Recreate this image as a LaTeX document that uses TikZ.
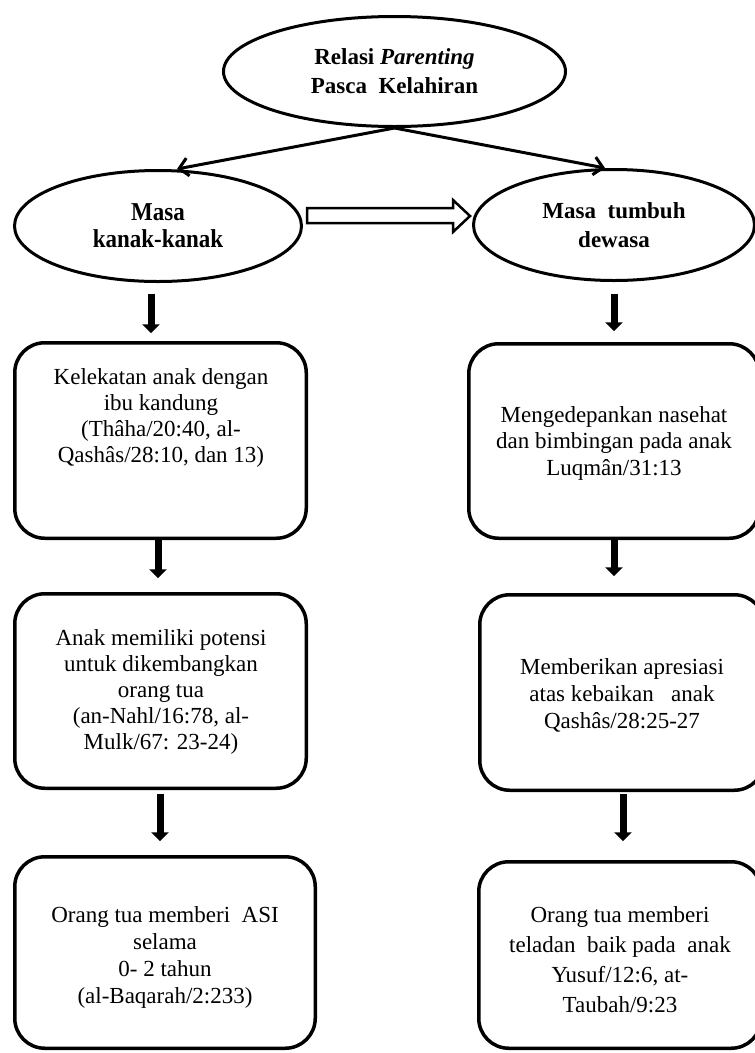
\documentclass[tikz,border=0pt]{standalone}
\usepackage{fontspec}
\usepackage{graphicx}
\setmainfont{Liberation Serif}
\usetikzlibrary{shapes.geometric,arrows.meta}
\newcommand{\tallbold}[1]{\scalebox{1}[1.12]{#1}}
\begin{document}
\begin{tikzpicture}[x=1pt,y=-1pt,
  oval/.style={ellipse,draw,line width=3pt,inner sep=0pt,align=center},
  ovaltext/.style={font=\bfseries\fontsize{23}{#1}\selectfont},
  card/.style={rectangle,draw,line width=3.5pt,rounded corners=30pt,inner sep=0pt},
  cardtext/.style={align=center,inner sep=0pt,font=\fontsize{23}{#1}\selectfont},
  thinarrow/.style={line width=3pt,-{Straight Barb[length=9pt,width=18pt]}},
  downarrow/.style={line width=7pt,-{Triangle[length=9pt,width=17pt]}},
  hollowarrow/.style={line width=2.5pt,line join=miter}
]
\path[use as bounding box] (0,0) rectangle (755,1053);
\clip (0,0) rectangle (755,1053);

% ellipses
\node[oval,ovaltext=29,minimum width=342pt,minimum height=110pt] (top) at (394.5,71.5)
  {Relasi \textit{Parenting}\\Pasca~~Kelahiran};
\node[oval,ovaltext=27,minimum width=287pt,minimum height=111pt] (kanak) at (158,226)
  {\tallbold{Masa}\\\tallbold{kanak-kanak}};
\node[oval,ovaltext=29,minimum width=281pt,minimum height=111pt] (dewasa) at (614,225)
  {Masa~~tumbuh\\dewasa};

% rounded boxes
\node[card,minimum width=291.5pt,minimum height=195.5pt] (bl1) at (160.5,440.5) {};
\node[card,minimum width=291.5pt,minimum height=194.5pt] (bl2) at (160.5,691) {};
\node[card,minimum width=300.5pt,minimum height=191.5pt] (bl3) at (165,952.5) {};
\node[card,minimum width=290.5pt,minimum height=194.5pt] (br1) at (614,441) {};
\node[card,minimum width=284.5pt,minimum height=195.5pt] (br2) at (622,692.5) {};
\node[card,minimum width=282.5pt,minimum height=186.5pt] (br3) at (620,955) {};

% box texts
\node[cardtext=25.7] (tl1) at (161,418)
  {Kelekatan anak dengan\\ibu kandung\\(Thâha/20:40, al-\\Qashâs/28:10, dan 13)};
\node[cardtext=26.2] (tl2) at (161,692)
  {Anak memiliki potensi\\untuk dikembangkan\\orang tua\\(an-Nahl/16:78, al-\\Mulk/67: 23-24)};
\node[cardtext=26.7] (tl3) at (165,957.5)
  {Orang tua memberi~ ASI\\selama\\0- 2 tahun\\(al-Baqarah/2:233)};
\node[cardtext=26.5] (tr1) at (614,443)
  {Mengedepankan nasehat\\dan bimbingan pada anak\\Luqmân/31:13};
\node[cardtext=27] (tr2) at (622,695.5)
  {Memberikan apresiasi\\atas kebaikan~~ anak\\Qashâs/28:25-27};
\node[cardtext=30] (tr3) at (620,960)
  {Orang tua memberi\\teladan~ baik pada~ anak\\Yusuf/12:6, at-\\Taubah/9:23};

% branches from the title
\draw[thinarrow] (top.south) -- ([xshift=19pt]kanak.north);
\draw[thinarrow] (top.south) -- ([xshift=-9pt]dewasa.north);

% hollow arrow between the two periods
\draw[hollowarrow] ([shift={(4,-18)}]kanak.east) -- ++(146,0) -- ++(0,-8) -- ++(17,16)
  -- ++(-17,16) -- ++(0,-9) -- ++(-146,0) -- cycle;

% left column
\draw[downarrow,shorten <=10.5pt,shorten >=7.75pt] ([xshift=-7pt]kanak.south) -- ([xshift=-9.5pt]bl1.north);
\draw[downarrow,shorten >=13.75pt] ([xshift=-2.5pt]bl1.south) -- ([xshift=-2.5pt]bl2.north);
\draw[downarrow,shorten <=3.75pt,shorten >=13.75pt] ([xshift=-0.5pt]bl2.south) -- ([xshift=-5pt]bl3.north);

% right column
\draw[downarrow,shorten <=11.5pt,shorten >=10.75pt] (dewasa.south) -- (br1.north);
\draw[downarrow,shorten >=16.75pt] (br1.south) -- ([xshift=-8pt]br2.north);
\draw[downarrow,shorten <=1.75pt,shorten >=18.75pt] ([xshift=1pt]br2.south) -- ([xshift=3pt]br3.north);
\end{tikzpicture}
\end{document}
